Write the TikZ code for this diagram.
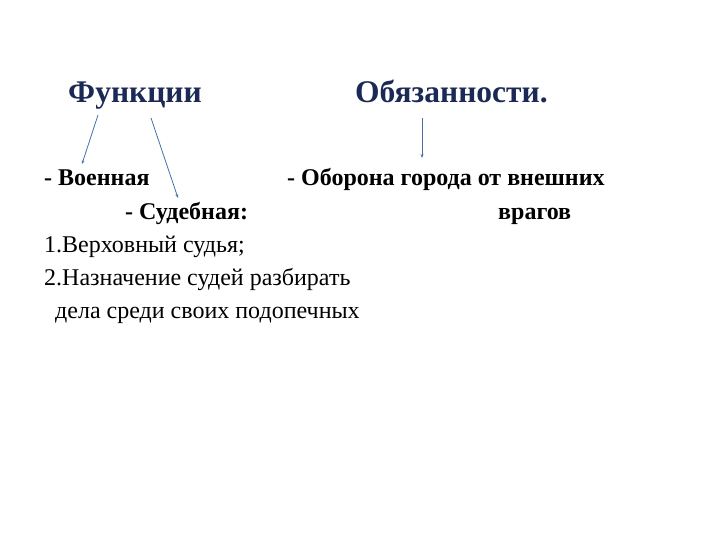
\documentclass[tikz,border=0pt]{standalone}
\usepackage{fontspec}
\setmainfont{Liberation Serif}
\definecolor{titlecol}{HTML}{1B2A55}
\definecolor{arrowcol}{HTML}{4A6FA5}
\tikzset{
  title/.style={anchor=base west, inner sep=0pt, font=\fontsize{31.5}{34}\selectfont\bfseries, text=titlecol},
  bodyb/.style={anchor=base west, inner sep=0pt, font=\fontsize{24}{26}\selectfont\bfseries},
  bodyr/.style={anchor=base west, inner sep=0pt, font=\fontsize{24}{26}\selectfont},
  conn/.style={draw=arrowcol, line width=0.8pt, -{Stealth[length=4pt,width=3pt]}}
}
\usetikzlibrary{arrows.meta}
\begin{document}
\begin{tikzpicture}[x=1pt,y=-1pt]
\useasboundingbox (0,0) rectangle (720,540);
\node[title] (func) at (68,103) {Функции};
\node[title] (obl) at (355,103) {Обязанности.};
\node[bodyb] (voen) at (44,186) {- Военная};
\node[bodyb] (obor) at (287,186) {- Оборона города от внешних};
\node[bodyb] (sud) at (125,219) {- Судебная:};
\node[bodyb] (vrag) at (498,219) {врагов};
\node[bodyr] (l1) at (44,252) {1.Верховный судья;};
\node[bodyr] (l2) at (44,285) {2.Назначение судей разбирать};
\node[bodyr] (l3) at (55,318) {дела среди своих подопечных};
\coordinate (a1s) at (98,115);
\coordinate (a1e) at (82,164);
\coordinate (a2s) at (151,118);
\coordinate (a2e) at (178,198);
\coordinate (a3s) at (422,118);
\coordinate (a3e) at (422,158);
\draw[conn] (a1s) -- (a1e);
\draw[conn] (a2s) -- (a2e);
\draw[conn] (a3s) -- (a3e);
\end{tikzpicture}
\end{document}
